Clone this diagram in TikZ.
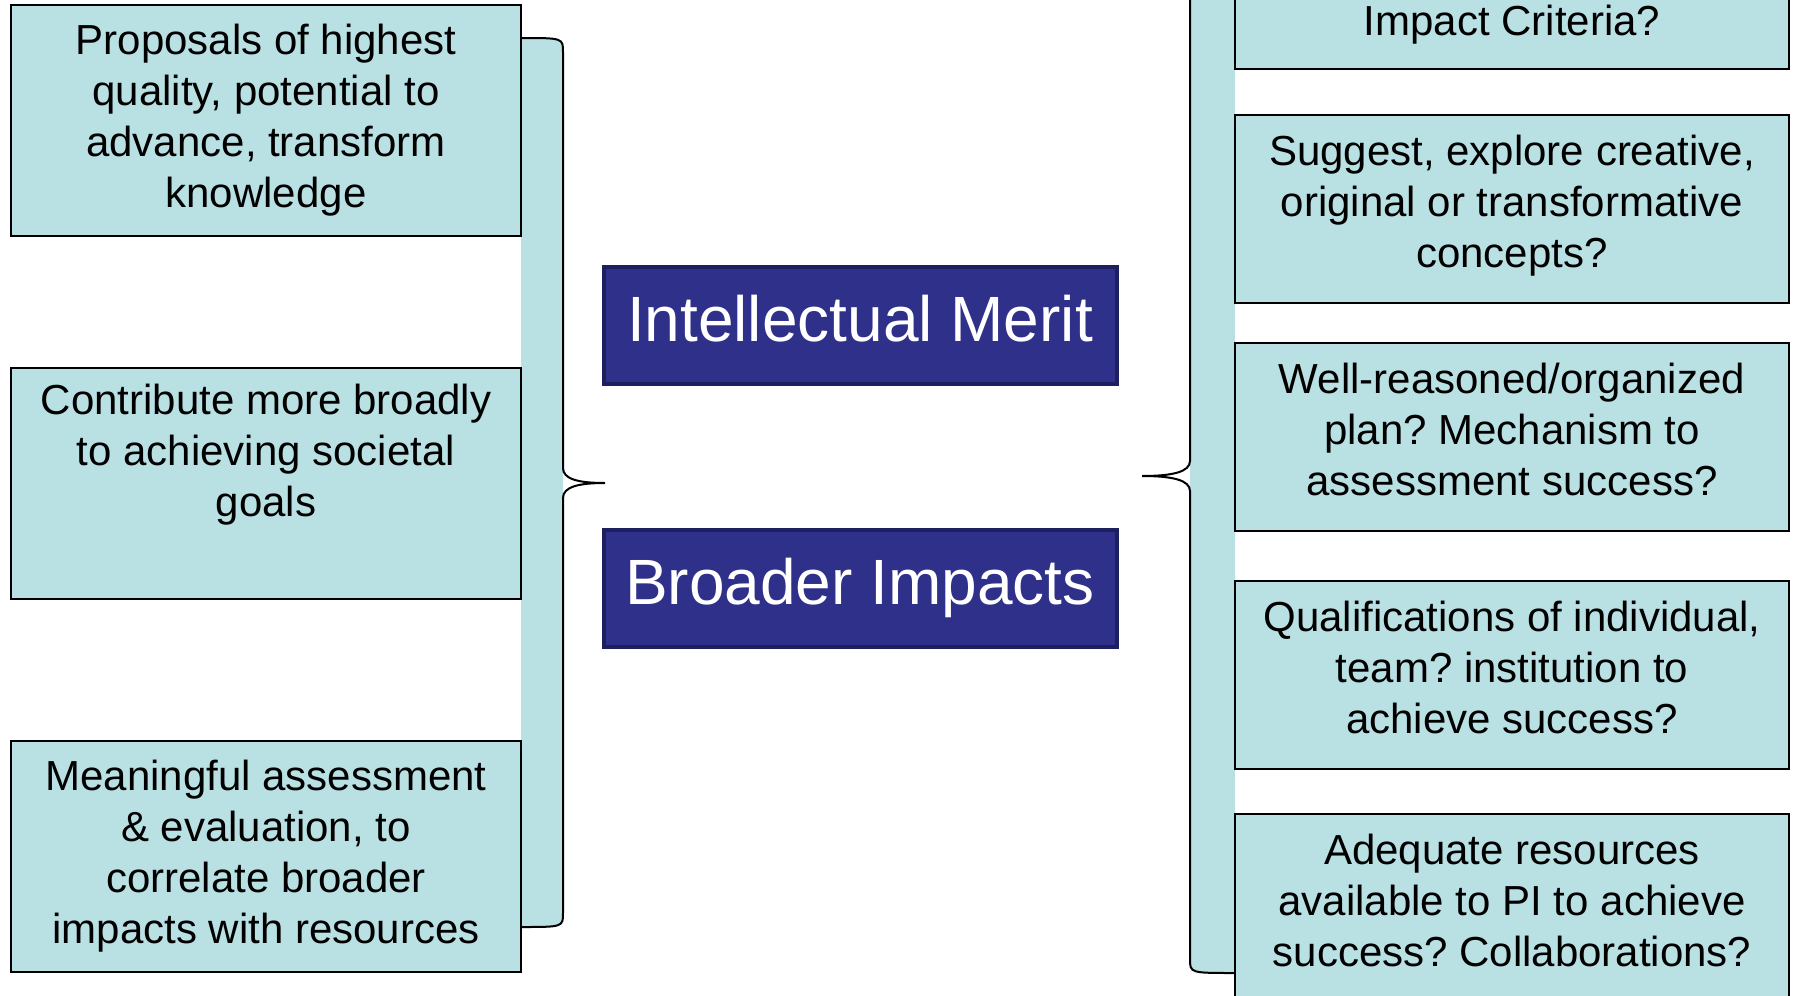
\documentclass[tikz,border=0pt]{standalone}
\usepackage{fontspec}
\setmainfont{Liberation Sans}
\usepackage{tikz}
\definecolor{critblue}{RGB}{185,224,227}
\definecolor{meritnavy}{RGB}{46,48,138}
\definecolor{meritedge}{RGB}{30,31,95}
\frenchspacing

\begin{document}
\begin{tikzpicture}[x=0.5pt,y=-0.5pt,
        leftbox/.style={draw=black,line width=1pt,fill=critblue,align=center,
          minimum width=255pt,minimum height=115.5pt,inner sep=0pt,
          font=\fontsize{21}{25.5}\selectfont},
        rightbox/.style={leftbox,minimum width=277pt,minimum height=94pt,text depth=8pt},
        titlebox/.style={draw=meritedge,line width=2pt,fill=meritnavy,text=white,
          minimum width=256.5pt,minimum height=58.5pt,inner sep=0pt,text depth=7pt,
          font=\fontsize{32}{38}\selectfont},
        brace/.style={draw=black,line width=1pt}]
        \useasboundingbox (0,0) rectangle (1795,996);
        \clip (0,0) rectangle (1795,996);
        % brace ends and tips
        \coordinate (lt) at (521,38);
        \coordinate (lm) at (605,483);
        \coordinate (lb) at (521,927);
        \coordinate (rt) at (1235,-21);
        \coordinate (rm) at (1142,476);
        \coordinate (rb) at (1235,973);
        % light strips behind the braces
        \fill[critblue] (lt) .. controls (563,38) .. (563,52) -- (563,913)
          .. controls (563,927) .. (lb) -- cycle;
        \fill[critblue] (rt) .. controls (1190,-21) .. (1190,-7) -- (1190,959)
          .. controls (1190,973) .. (rb) -- cycle;
        \begin{scope}[every node/.style={leftbox}]
          \node (l1) at (266,120) {Proposals of highest\\quality, potential to\\advance, transform\\knowledge};
          \node (l2) at (266,483) {Contribute more broadly\\to achieving societal\\goals\\\strut};
          \node (l3) at (266,856) {Meaningful assessment\\\& evaluation, to\\correlate broader\\impacts with resources};
        \end{scope}
        \begin{scope}[every node/.style={rightbox}]
          \node (r1) at (1512,-25) {\strut\\\strut\\Impact Criteria?};
          \node (r2) at (1512,209) {Suggest, explore creative,\\original or transformative\\concepts?};
          \node (r3) at (1512,437) {Well-reasoned/organized\\plan? Mechanism to\\assessment success?};
          \node (r4) at (1512,675) {Qualifications of individual,\\team? institution to\\achieve success?};
          \node (r5) at (1512,908) {Adequate resources\\available to PI to achieve\\success? Collaborations?};
        \end{scope}
        \node[titlebox] (im) at (860,325) {Intellectual Merit};
        \node[titlebox] (bi) at (860,588) {Broader Impacts};
        % braces
        \path[brace] (lt) .. controls (563,38) .. (563,52) -- (563,468)
          .. controls (563,479) and (578,483) .. (lm)
          .. controls (578,483) and (563,487) .. (563,498) -- (563,913)
          .. controls (563,927) .. (lb);
        \path[brace] (rt) .. controls (1190,-21) .. (1190,-7) -- (1190,461)
          .. controls (1190,472) and (1172,476) .. (rm)
          .. controls (1172,476) and (1190,480) .. (1190,491) -- (1190,959)
          .. controls (1190,973) .. (rb);
      \end{tikzpicture}
\end{document}
